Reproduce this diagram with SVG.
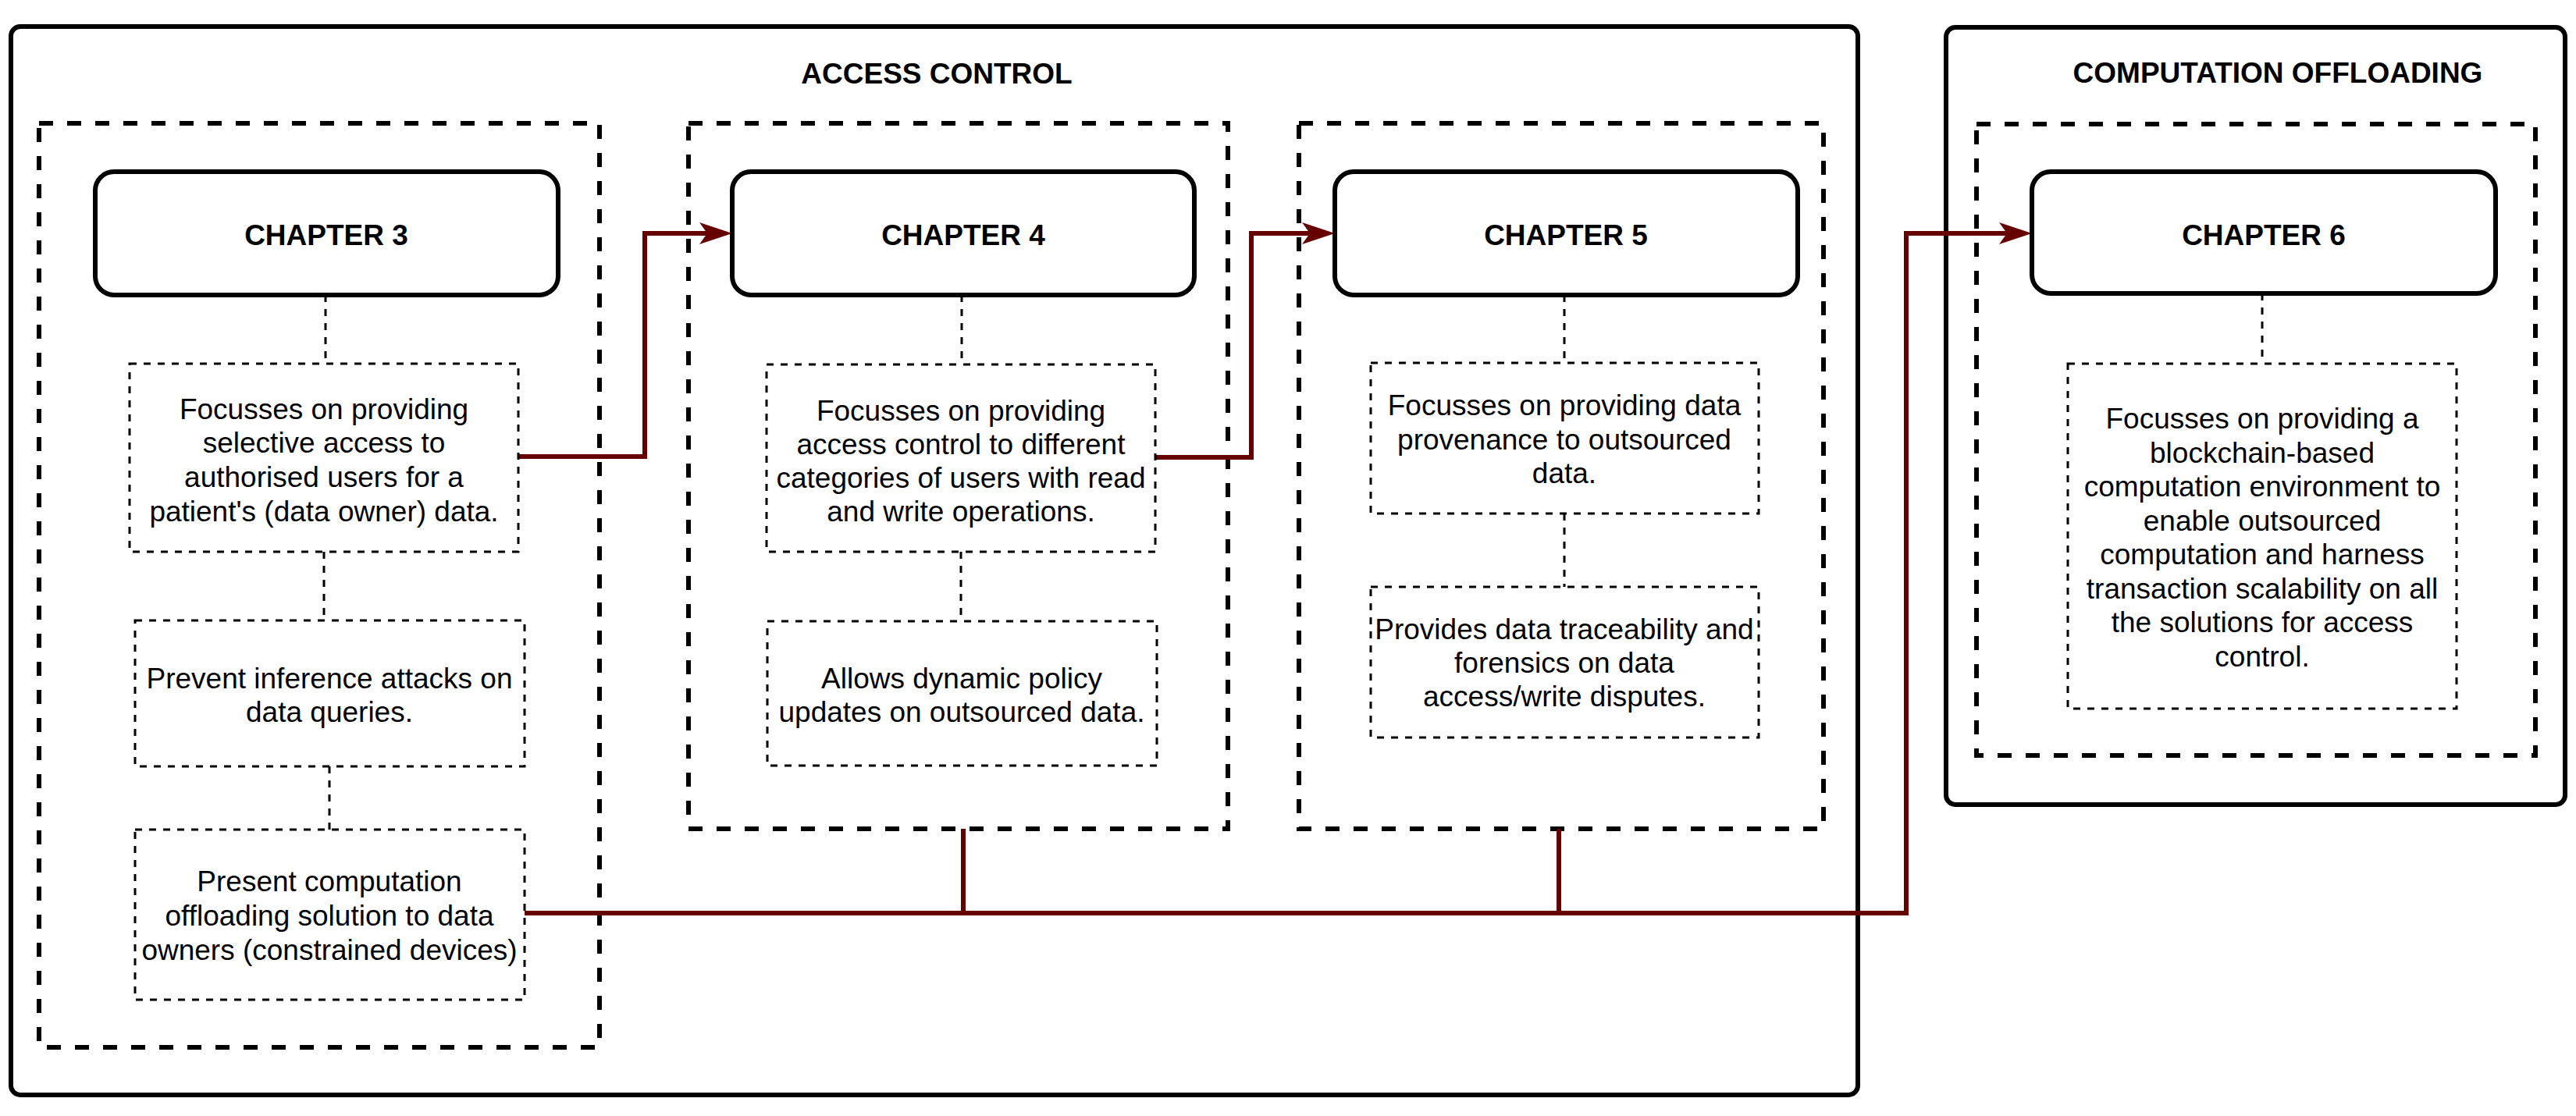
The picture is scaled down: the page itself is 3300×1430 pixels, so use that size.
<svg xmlns="http://www.w3.org/2000/svg" width="3300" height="1430" viewBox="0 0 3300 1430">
<style>
.outer{fill:none;stroke:#000;stroke-width:6}
.col{fill:none;stroke:#000;stroke-width:6;stroke-dasharray:18 18}
.chap{fill:#fff;stroke:#000;stroke-width:6}
.note{fill:#fff;stroke:#000;stroke-width:3;stroke-dasharray:9 9}
.link{fill:none;stroke:#000;stroke-width:3;stroke-dasharray:9 9}
.flow{fill:none;stroke:#660000;stroke-width:6}
text{font-family:"Liberation Sans",Arial,Helvetica,sans-serif;font-size:37px;fill:#000;text-anchor:middle}
.title,.ct{font-weight:bold}
</style>
<defs>
<marker id="arr" markerUnits="userSpaceOnUse" viewBox="0 -15 42 30" refX="10" refY="0" markerWidth="42" markerHeight="30" orient="auto">
<path d="M0,-14 L42,0 L0,14 L10,0 Z" fill="#660000"/>
</marker>
</defs>

<g id="access-control">
<rect class="outer" x="14" y="34" width="2366" height="1369" rx="12"/>
<text class="title" x="1200" y="107">ACCESS CONTROL</text>
</g>
<g id="computation-offloading">
<rect class="outer" x="2493" y="35" width="793" height="996" rx="12"/>
<text class="title" x="2918" y="106">COMPUTATION OFFLOADING</text>
</g>

<g id="col3"><rect class="col" x="50" y="158" width="718" height="1184"/></g>
<g id="col4"><rect class="col" x="882" y="158" width="691" height="904"/></g>
<g id="col5"><rect class="col" x="1664" y="158" width="672" height="904"/></g>
<g id="col6"><rect class="col" x="2532" y="159" width="716" height="809"/></g>

<g id="connectors">
<path class="link" d="M417,378 V466"/>
<path class="link" d="M415,707 V795"/>
<path class="link" d="M422,982 V1063"/>
<path class="link" d="M1232,378 V467"/>
<path class="link" d="M1231,707 V796"/>
<path class="link" d="M2004,378 V465"/>
<path class="link" d="M2004,658 V752"/>
<path class="link" d="M2898,376 V466"/>
<path class="flow" d="M664,585 H826 V299 H906" marker-end="url(#arr)"/>
<path class="flow" d="M1480,586 H1603 V299 H1678" marker-end="url(#arr)"/>
<path class="flow" d="M672,1170 H2442 V299 H2571" marker-end="url(#arr)"/>
<path class="flow" d="M1234,1062 V1170"/>
<path class="flow" d="M1997,1062 V1170"/>
</g>

<g id="chapter3">
<rect class="chap" x="122" y="220" width="593" height="158" rx="24"/>
<text class="ct" x="418" y="314">CHAPTER 3</text>
</g>
<g id="chapter4">
<rect class="chap" x="938" y="220" width="592" height="158" rx="24"/>
<text class="ct" x="1234" y="314">CHAPTER 4</text>
</g>
<g id="chapter5">
<rect class="chap" x="1710" y="220" width="593" height="158" rx="24"/>
<text class="ct" x="2006" y="314">CHAPTER 5</text>
</g>
<g id="chapter6">
<rect class="chap" x="2603" y="220" width="594" height="156" rx="24"/>
<text class="ct" x="2900" y="314">CHAPTER 6</text>
</g>

<g id="c3-selective-access">
<rect class="note" x="166" y="466" width="498" height="241"/>
<text x="415" y="537">Focusses on providing</text>
<text x="415" y="580">selective access to</text>
<text x="415" y="624">authorised users for a</text>
<text x="415" y="668">patient's (data owner) data.</text>
</g>
<g id="c3-inference">
<rect class="note" x="173" y="795" width="499" height="187"/>
<text x="422" y="882">Prevent inference attacks on</text>
<text x="422" y="925">data queries.</text>
</g>
<g id="c3-offloading">
<rect class="note" x="173" y="1063" width="499" height="218"/>
<text x="422" y="1142">Present computation</text>
<text x="422" y="1186">offloading solution to data</text>
<text x="422" y="1230">owners (constrained devices)</text>
</g>

<g id="c4-access-control">
<rect class="note" x="982" y="467" width="498" height="240"/>
<text x="1231" y="539">Focusses on providing</text>
<text x="1231" y="582">access control to different</text>
<text x="1231" y="625">categories of users with read</text>
<text x="1231" y="668">and write operations.</text>
</g>
<g id="c4-policy">
<rect class="note" x="983" y="796" width="499" height="185"/>
<text x="1232" y="882">Allows dynamic policy</text>
<text x="1232" y="925">updates on outsourced data.</text>
</g>

<g id="c5-provenance">
<rect class="note" x="1756" y="465" width="497" height="193"/>
<text x="2004" y="532">Focusses on providing data</text>
<text x="2004" y="576">provenance to outsourced</text>
<text x="2004" y="619">data.</text>
</g>
<g id="c5-traceability">
<rect class="note" x="1756" y="752" width="497" height="193"/>
<text x="2004" y="819">Provides data traceability and</text>
<text x="2004" y="862">forensics on data</text>
<text x="2004" y="905">access/write disputes.</text>
</g>

<g id="c6-blockchain">
<rect class="note" x="2649" y="466" width="498" height="442"/>
<text x="2898" y="549">Focusses on providing a</text>
<text x="2898" y="593">blockchain-based</text>
<text x="2898" y="636">computation environment to</text>
<text x="2898" y="680">enable outsourced</text>
<text x="2898" y="723">computation and harness</text>
<text x="2898" y="767">transaction scalability on all</text>
<text x="2898" y="810">the solutions for access</text>
<text x="2898" y="854">control.</text>
</g>
</svg>
